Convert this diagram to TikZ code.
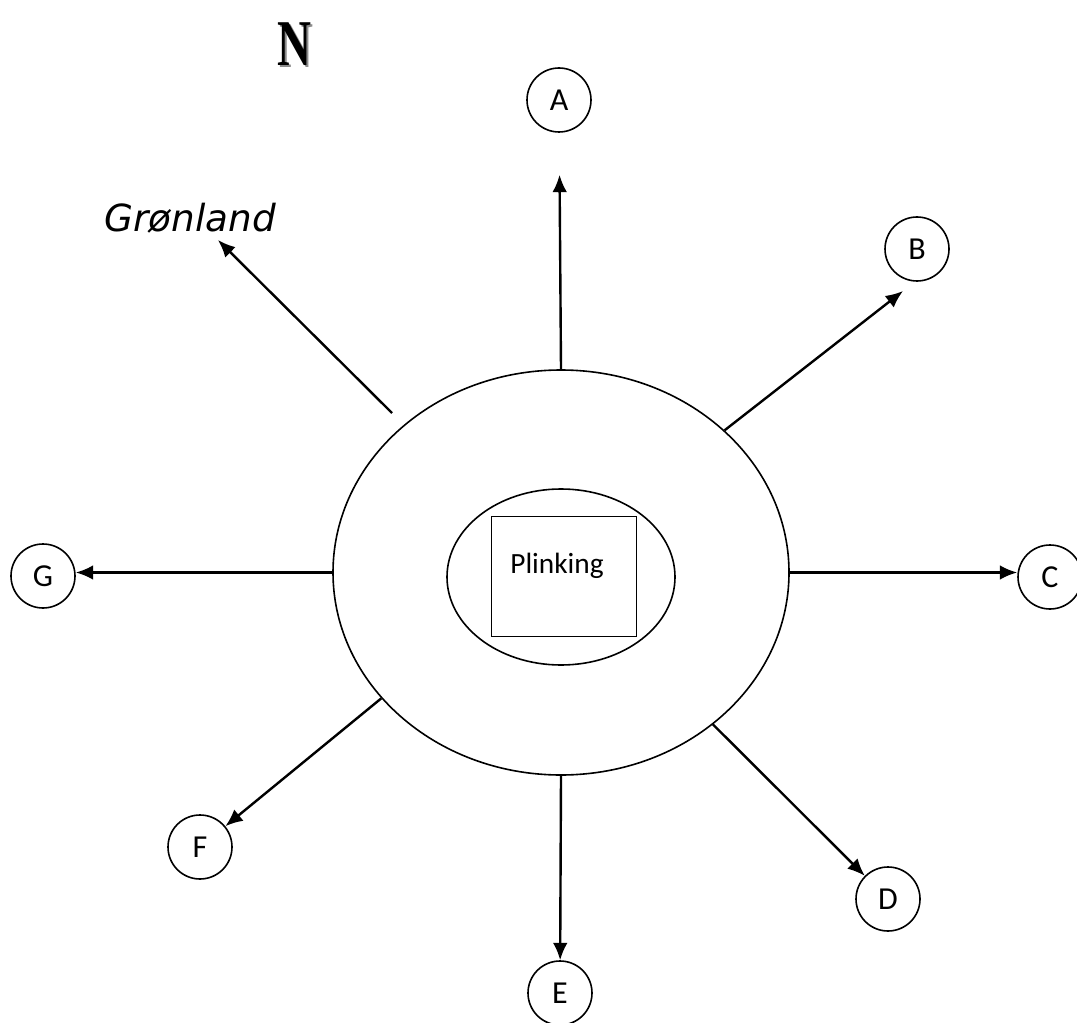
\documentclass[tikz,border=0pt]{standalone}
\usepackage{fontspec}
\setmainfont{Carlito}
\newfontfamily\compassfont{Liberation Serif}
\newfontfamily\handfont{DejaVu Sans}
\usetikzlibrary{shapes, arrows.meta, positioning}
\tikzset{
	place/.style={circle, draw, line width=1.2pt, minimum size=48pt, inner sep=0pt,
		font=\fontsize{24}{28}\selectfont},
	road/.style={line width=1.8pt, -{Latex[length=13pt,width=11pt]}}
}

\begin{document}
\begin{tikzpicture}[x=0.75pt, y=-0.75pt]
	\useasboundingbox (0,0) rectangle (1077,1023);
	
	% compass letter
	\node [text=black!45, font=\compassfont\bfseries\fontsize{49}{50}\selectfont] (northshade) at (296,46) {\scalebox{0.72}[1]{N}};
	\node [font=\compassfont\bfseries\fontsize{49}{50}\selectfont] (north) at (294,44) {\scalebox{0.72}[1]{N}};
	
	% town
	\node [ellipse, draw, line width=1.2pt, minimum width=342pt, minimum height=303.75pt, inner sep=0pt] (ring) at (561,572.5) {};
	\node [ellipse, draw, line width=1.2pt, minimum width=171pt, minimum height=132pt, inner sep=0pt] (core) at (561,577) {};
	\node [draw, line width=0.6pt, minimum width=108.75pt, minimum height=90pt] (square) at (563.5,576) {};
	\node [anchor=base, font=\fontsize{22}{26}\selectfont] (plinking) at (557,573) {Plinking};
	
	% places
	\node [place] (A) at (559,100) {A};
	\node [place] (B) at (917,249) {B};
	\node [place] (C) at (1050,577) {C};
	\node [place] (D) at (888,899) {D};
	\node [place] (E) at (560,993) {E};
	\node [place] (F) at (200,847) {F};
	\node [place] (G) at (43,576) {G};
	\node [font=\handfont\itshape\fontsize{28}{30}\selectfont\mdseries] (gronland) at (190,218) {Grønland};
	
	\coordinate (fromGr) at (392,413);
	\coordinate (toGr) at (218,240);
	\coordinate (toB) at (903,291);
	
	% roads
	\draw [road, shorten >=31.5pt] (ring.north) -- (A);
	\draw [road] (ring.41) -- (toB);
	\draw [road] (ring.east) -- (ring.east -| C.west);
	\draw [road] (ring.-45) -- (D);
	\draw [road] (ring.south) -- (E);
	\draw [road] (ring.215) -- (F);
	\draw [road] (ring.west) -- (ring.west -| G.east);
	\draw [road] (fromGr) -- (toGr);
\end{tikzpicture}
\end{document}
